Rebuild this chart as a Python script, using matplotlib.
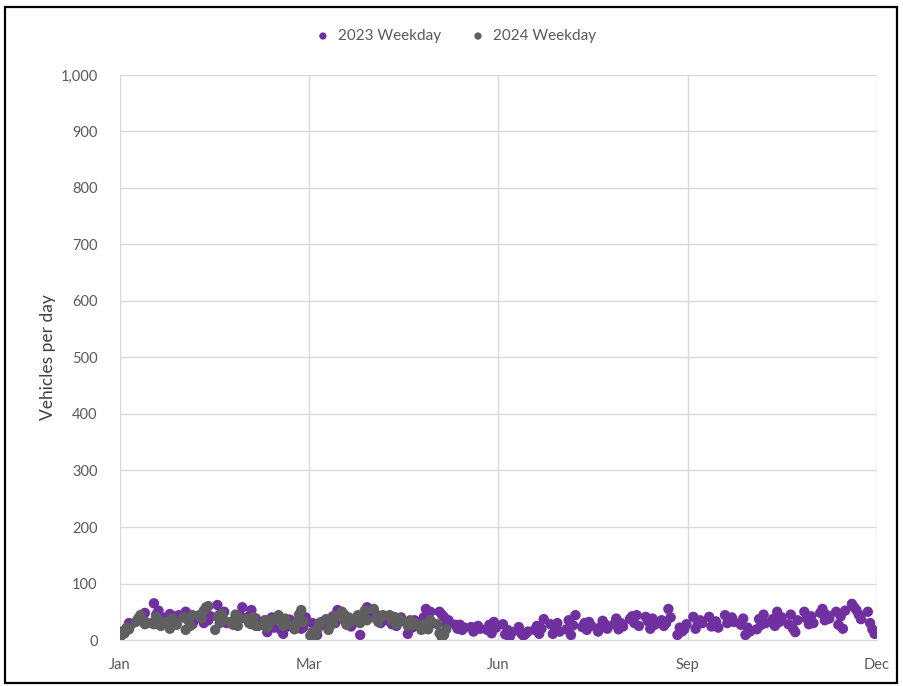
import numpy as np
import pandas as pd
import matplotlib.pyplot as plt
from matplotlib.patches import Rectangle

plt.rcParams['font.family'] = ['Lato', 'DejaVu Sans']

# weekday counts, one row per week (Mon-Fri)
vals_2023 = [
    15, 12, 20, 30, 28,
    35, 42, 38, 48, 30,
    65, 45, 52, 38, 40,
    46, 35, 42, 30, 44,
    50, 38, 44, 28, 36,
    40, 30, 48, 35, 42,
    62, 45, 38, 50, 30,
    27, 40, 35, 44, 58,
    42, 53, 30, 38, 25,
    35, 14, 28, 40, 22,
    18, 11, 30, 24, 36,
    28, 35, 20, 23, 40,
    30, 15, 9, 25, 32,
    20, 35, 42, 30, 53,
    45, 28, 38, 24, 30,
    9, 35, 42, 58, 40,
    45, 38, 30, 42, 35,
    28, 37, 25, 32, 40,
    11, 30, 22, 35, 28,
    40, 55, 38, 50, 30,
    50, 45, 41, 27, 35,
    27, 20, 27, 18, 22,
    23, 15, 19, 25, 20,
    18, 27, 12, 32, 22,
    28, 10, 18, 6, 14,
    23, 12, 8, 11, 15,
    18, 25, 11, 20, 37,
    28, 11, 22, 30, 15,
    19, 35, 9, 26, 44,
    23, 30, 18, 32, 25,
    15, 23, 34, 28, 20,
    28, 38, 19, 30, 24,
    37, 42, 30, 44, 25,
    41, 33, 20, 38, 27,
    35, 25, 30, 55, 40,
    9, 22, 15, 19, 28,
    41, 20, 28, 35, 30,
    41, 24, 27, 33, 22,
    44, 30, 35, 40, 32,
    27, 38, 9, 22, 15,
    19, 37, 27, 45, 30,
    37, 25, 50, 32, 40,
    28, 45, 20, 14, 35,
    50, 38, 28, 42, 30,
    48, 55, 35, 44, 38,
    50, 27, 42, 20, 52,
    64, 58, 53, 45, 37,
    50, 30, 19, 11,
]

vals_2024 = [
    5, 10, 15, 22, 19,
    32, 38, 44, 35, 28,
    30, 28, 41, 36, 25,
    32, 20, 38, 32, 27,
    40, 18, 35, 25, 44,
    44, 38, 52, 58, 60,
    18, 41, 30, 46, 35,
    32, 28, 45, 25, 38,
    37, 30, 28, 40, 25,
    27, 35, 22, 30, 35,
    44, 32, 25, 38, 28,
    19, 30, 45, 53, 32,
    8, 14, 5, 18, 30,
    37, 18, 27, 30, 42,
    50, 35, 27, 40, 33,
    44, 30, 38, 52, 35,
    55, 38, 32, 40, 44,
    44, 35, 41, 28, 38,
    32, 25, 35, 27, 30,
    18, 28, 22, 19, 35,
    28, 12, 5, 9, 19,
]

days_2023 = pd.bdate_range('2023-01-02', periods=len(vals_2023))
days_2024 = pd.bdate_range('2024-01-01', periods=len(vals_2024))

month_labels = ['Jan', 'Mar', 'Jun', 'Sep', 'Dec']
y_ticks = np.arange(0, 1001, 100)

purple = '#7030a0'
grey = '#5f5f5f'
txt = '#595959'

fig = plt.figure(figsize=(9.04, 6.86), dpi=100)
ax = fig.add_axes([0.1327, 0.067, 0.8373, 0.8238])

ax.scatter(days_2023.dayofyear - 1, vals_2023, s=56, color=purple,
           edgecolors='none', label='2023 Weekday', zorder=3)
ax.scatter(days_2024.dayofyear - 1, vals_2024, s=56, color=grey,
           edgecolors='none', label='2024 Weekday', zorder=4)

ax.set_xlim(0, 334)
ax.set_ylim(0, 1000)
ax.set_xticks(np.linspace(0, 334, len(month_labels)))
ax.set_xticklabels(month_labels)
ax.set_yticks(y_ticks)
ax.set_yticklabels([f'{v:,}' for v in y_ticks])
ax.tick_params(length=0, colors=txt, labelsize=10.5)
ax.tick_params(axis='x', pad=13)
ax.tick_params(axis='y', pad=16)
ax.grid(True, color='#d9d9d9', linewidth=1)
ax.set_axisbelow(True)
for s in ax.spines.values():
    s.set_visible(False)
ax.spines['bottom'].set_visible(True)
ax.spines['bottom'].set_color('#d9d9d9')

ax.set_ylabel('Vehicles per day', color='#404040', fontsize=12.5, labelpad=3)

ax.legend(loc='upper center', bbox_to_anchor=(0.5, 1.0), bbox_transform=fig.transFigure,
          ncol=2, frameon=False, fontsize=11, labelcolor=txt, markerscale=0.7,
          handletextpad=0.0, columnspacing=1.4, borderaxespad=1.5)

# outer chart frame
fig.patches.append(Rectangle((0.006, 0.004), 0.986, 0.986, transform=fig.transFigure,
                             fill=False, edgecolor='black', linewidth=1.6))

fig.savefig('out.png', dpi=100)
